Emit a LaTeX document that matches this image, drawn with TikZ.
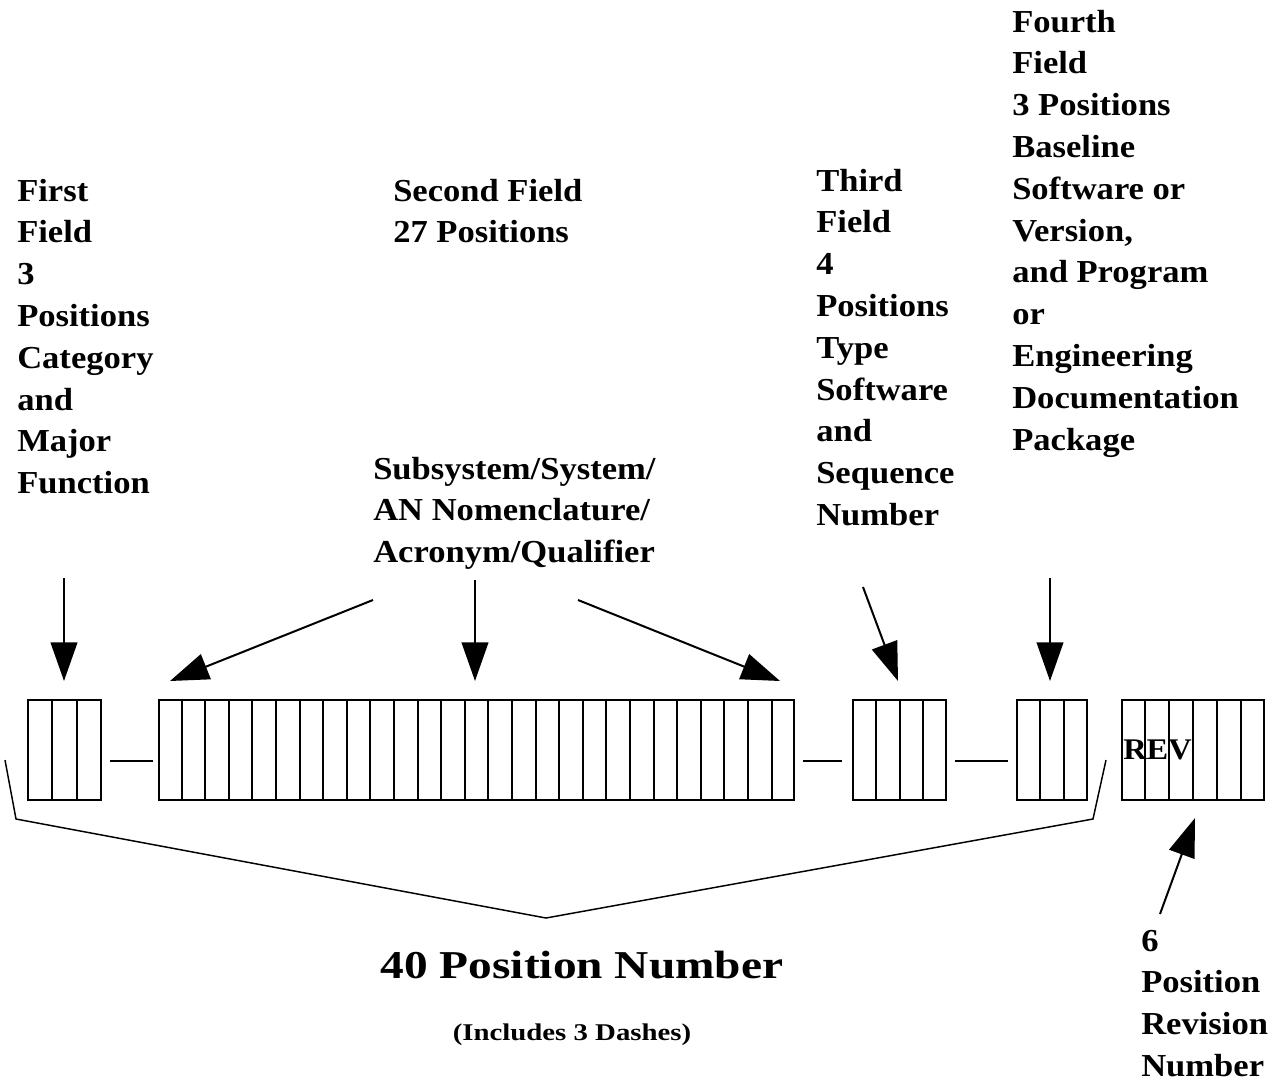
\documentclass[tikz,border=0pt]{standalone}
\usepackage{fontspec}
\setmainfont{Liberation Serif}
\newfontfamily\lblfont{Liberation Serif}[FakeStretch=1.08]
\newfontfamily\bigfont{Liberation Serif}[FakeStretch=1.2]
\usetikzlibrary{arrows.meta,calc}
\newdimen\pxd \pxd=0.75pt
\begin{document}
\begin{tikzpicture}[x=0.75pt,y=-0.75pt,
  fieldbox/.style={draw, line width=1.6pt, rectangle, inner sep=0pt, anchor=north west, minimum height=100\pxd},
  cell/.style={line width=1.5pt},
  sepline/.style={line width=1.5pt},
  pointer/.style={line width=1.5pt, -{Triangle[length=29pt,width=20pt]}},
  bracel/.style={line width=1.1pt},
  lbl/.style={inner sep=0pt, anchor=base west, font=\lblfont\bfseries\fontsize{24pt}{31.35pt}\selectfont},
  bigl/.style={inner sep=0pt, anchor=base, font=\bigfont\bfseries\fontsize{29.6pt}{35pt}\selectfont},
  smalll/.style={inner sep=0pt, anchor=base, font=\bigfont\bfseries\fontsize{18pt}{22pt}\selectfont},
  revl/.style={inner sep=0pt, anchor=base west, font=\lblfont\bfseries\fontsize{22.5pt}{27pt}\selectfont}
]
\useasboundingbox (0,0) rectangle (1278,1083);

% field boxes
\node[fieldbox, minimum width=73\pxd]  (f1)  at (27,699)  {};
\node[fieldbox, minimum width=635\pxd] (f2)  at (158,699) {};
\node[fieldbox, minimum width=93\pxd]  (f3)  at (852,699) {};
\node[fieldbox, minimum width=70\pxd]  (f4)  at (1016,699) {};
\node[fieldbox, minimum width=142\pxd] (rev) at (1121,699) {};

% cell dividers
\foreach \b/\n in {f1/3,f2/27,f3/4,f4/3,rev/6}{
  \pgfmathtruncatemacro{\m}{\n-1}
  \foreach \i in {1,...,\m}{
    \draw[cell] ($(\b.north west)!\i/\n!(\b.north east)$) -- ($(\b.south west)!\i/\n!(\b.south east)$);
  }
}

\node[revl] (revtxt) at (1123,759) {REV};

% dashes between fields
\draw[sepline] ([shift={(8,11)}]f1.east) -- ([shift={(-5,11)}]f2.west);
\draw[sepline] ([shift={(8,11)}]f2.east) -- ([shift={(-10,11)}]f3.west);
\draw[sepline] ([shift={(8,11)}]f3.east) -- ([shift={(-8,11)}]f4.west);

% labels
\node[lbl] (t1) at (17,201) {\begin{tabular}[t]{@{}l@{}}First\\Field\\3\\Positions\\Category\\and\\Major\\Function\end{tabular}};
\node[lbl] (t2) at (393,201) {\begin{tabular}[t]{@{}l@{}}Second Field\\27 Positions\end{tabular}};
\node[lbl] (t2b) at (373,479) {\begin{tabular}[t]{@{}l@{}}Subsystem/System/\\AN Nomenclature/\\Acronym/Qualifier\end{tabular}};
\node[lbl] (t3) at (816,191) {\begin{tabular}[t]{@{}l@{}}Third\\Field\\4\\Positions\\Type\\Software\\and\\Sequence\\Number\end{tabular}};
\node[lbl] (t4) at (1012,32) {\begin{tabular}[t]{@{}l@{}}Fourth\\Field\\3 Positions\\Baseline\\Software or\\Version,\\and Program\\or\\Engineering\\Documentation\\Package\end{tabular}};
\node[lbl] (t5) at (1141,951) {\begin{tabular}[t]{@{}l@{}}6\\Position\\Revision\\Number\end{tabular}};
\node[bigl] (t6) at (582,978) {40 Position Number};
\node[smalll] (t7) at (572,1040) {(Includes 3 Dashes)};

% arrow coordinates
\coordinate (s1) at (64,578);   \coordinate (e1) at (64,681);
\coordinate (s2) at (373,600);  \coordinate (e2) at (170,681);
\coordinate (s3) at (475,580);  \coordinate (e3) at (475,681);
\coordinate (s4) at (578,600);  \coordinate (e4) at (780,681);
\coordinate (s5) at (863,587);  \coordinate (e5) at (898,681);
\coordinate (s6) at (1050,578); \coordinate (e6) at (1050,681);
\coordinate (s7) at (1160,914); \coordinate (e7) at (1195,818);

\foreach \k in {1,...,7}{\draw[pointer] (s\k) -- (e\k);}

% brace
\coordinate (b1) at (5,760);
\coordinate (b2) at (16,819);
\coordinate (b3) at (546,918);
\coordinate (b4) at (1093,819);
\coordinate (b5) at (1106,760);
\draw[bracel] (b1) -- (b2) -- (b3) -- (b4) -- (b5);
\end{tikzpicture}
\end{document}
